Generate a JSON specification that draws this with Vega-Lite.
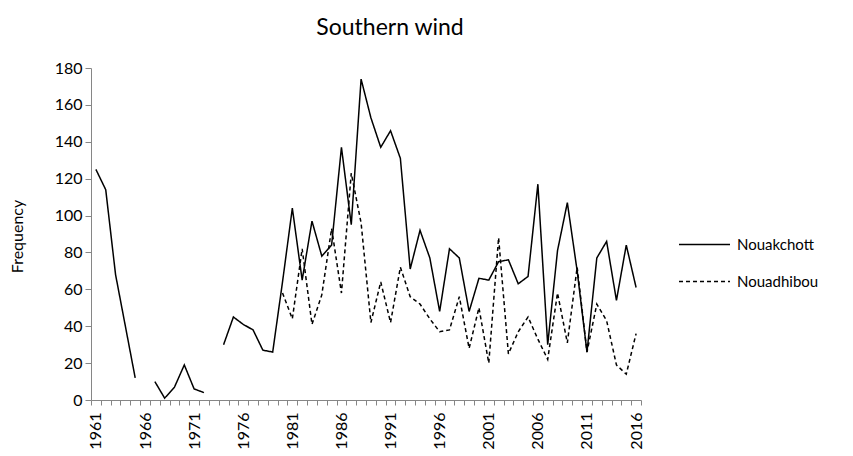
{
  "$schema": "https://vega.github.io/schema/vega-lite/v6.json",
  "width": 550,
  "height": 332,
  "autosize": {"type": "none"},
  "padding": {"left": 91, "top": 68, "right": 212, "bottom": 56},
  "title": {"text": "Southern  wind", "anchor": "middle", "fontSize": 23, "font": "Lato", "fontWeight": "normal", "dx": 24, "offset": 20, "color": "#000"},
  "data": {"values": [
    {"year": 1961, "station": "Nouakchott", "value": 125},
    {"year": 1962, "station": "Nouakchott", "value": 114},
    {"year": 1963, "station": "Nouakchott", "value": 68},
    {"year": 1964, "station": "Nouakchott", "value": 40},
    {"year": 1965, "station": "Nouakchott", "value": 12},
    {"year": 1966, "station": "Nouakchott", "value": null},
    {"year": 1967, "station": "Nouakchott", "value": 10},
    {"year": 1968, "station": "Nouakchott", "value": 1},
    {"year": 1969, "station": "Nouakchott", "value": 7},
    {"year": 1970, "station": "Nouakchott", "value": 19},
    {"year": 1971, "station": "Nouakchott", "value": 6},
    {"year": 1972, "station": "Nouakchott", "value": 4},
    {"year": 1973, "station": "Nouakchott", "value": null},
    {"year": 1974, "station": "Nouakchott", "value": 30},
    {"year": 1975, "station": "Nouakchott", "value": 45},
    {"year": 1976, "station": "Nouakchott", "value": 41},
    {"year": 1977, "station": "Nouakchott", "value": 38},
    {"year": 1978, "station": "Nouakchott", "value": 27},
    {"year": 1979, "station": "Nouakchott", "value": 26},
    {"year": 1980, "station": "Nouakchott", "value": 64},
    {"year": 1981, "station": "Nouakchott", "value": 104},
    {"year": 1982, "station": "Nouakchott", "value": 65},
    {"year": 1983, "station": "Nouakchott", "value": 97},
    {"year": 1984, "station": "Nouakchott", "value": 78},
    {"year": 1985, "station": "Nouakchott", "value": 84},
    {"year": 1986, "station": "Nouakchott", "value": 137},
    {"year": 1987, "station": "Nouakchott", "value": 95},
    {"year": 1988, "station": "Nouakchott", "value": 174},
    {"year": 1989, "station": "Nouakchott", "value": 153},
    {"year": 1990, "station": "Nouakchott", "value": 137},
    {"year": 1991, "station": "Nouakchott", "value": 146},
    {"year": 1992, "station": "Nouakchott", "value": 131},
    {"year": 1993, "station": "Nouakchott", "value": 71},
    {"year": 1994, "station": "Nouakchott", "value": 92},
    {"year": 1995, "station": "Nouakchott", "value": 77},
    {"year": 1996, "station": "Nouakchott", "value": 48},
    {"year": 1997, "station": "Nouakchott", "value": 82},
    {"year": 1998, "station": "Nouakchott", "value": 77},
    {"year": 1999, "station": "Nouakchott", "value": 48},
    {"year": 2000, "station": "Nouakchott", "value": 66},
    {"year": 2001, "station": "Nouakchott", "value": 65},
    {"year": 2002, "station": "Nouakchott", "value": 75},
    {"year": 2003, "station": "Nouakchott", "value": 76},
    {"year": 2004, "station": "Nouakchott", "value": 63},
    {"year": 2005, "station": "Nouakchott", "value": 67},
    {"year": 2006, "station": "Nouakchott", "value": 117},
    {"year": 2007, "station": "Nouakchott", "value": 30},
    {"year": 2008, "station": "Nouakchott", "value": 81},
    {"year": 2009, "station": "Nouakchott", "value": 107},
    {"year": 2010, "station": "Nouakchott", "value": 70},
    {"year": 2011, "station": "Nouakchott", "value": 26},
    {"year": 2012, "station": "Nouakchott", "value": 77},
    {"year": 2013, "station": "Nouakchott", "value": 86},
    {"year": 2014, "station": "Nouakchott", "value": 54},
    {"year": 2015, "station": "Nouakchott", "value": 84},
    {"year": 2016, "station": "Nouakchott", "value": 61},
    {"year": 1980, "station": "Nouadhibou", "value": 58},
    {"year": 1981, "station": "Nouadhibou", "value": 44},
    {"year": 1982, "station": "Nouadhibou", "value": 82},
    {"year": 1983, "station": "Nouadhibou", "value": 41},
    {"year": 1984, "station": "Nouadhibou", "value": 57},
    {"year": 1985, "station": "Nouadhibou", "value": 93},
    {"year": 1986, "station": "Nouadhibou", "value": 58},
    {"year": 1987, "station": "Nouadhibou", "value": 123},
    {"year": 1988, "station": "Nouadhibou", "value": 96},
    {"year": 1989, "station": "Nouadhibou", "value": 42},
    {"year": 1990, "station": "Nouadhibou", "value": 64},
    {"year": 1991, "station": "Nouadhibou", "value": 42},
    {"year": 1992, "station": "Nouadhibou", "value": 72},
    {"year": 1993, "station": "Nouadhibou", "value": 56},
    {"year": 1994, "station": "Nouadhibou", "value": 52},
    {"year": 1995, "station": "Nouadhibou", "value": 44},
    {"year": 1996, "station": "Nouadhibou", "value": 37},
    {"year": 1997, "station": "Nouadhibou", "value": 38},
    {"year": 1998, "station": "Nouadhibou", "value": 56},
    {"year": 1999, "station": "Nouadhibou", "value": 28},
    {"year": 2000, "station": "Nouadhibou", "value": 50},
    {"year": 2001, "station": "Nouadhibou", "value": 20},
    {"year": 2002, "station": "Nouadhibou", "value": 88},
    {"year": 2003, "station": "Nouadhibou", "value": 25},
    {"year": 2004, "station": "Nouadhibou", "value": 37},
    {"year": 2005, "station": "Nouadhibou", "value": 45},
    {"year": 2006, "station": "Nouadhibou", "value": 33},
    {"year": 2007, "station": "Nouadhibou", "value": 22},
    {"year": 2008, "station": "Nouadhibou", "value": 58},
    {"year": 2009, "station": "Nouadhibou", "value": 31},
    {"year": 2010, "station": "Nouadhibou", "value": 72},
    {"year": 2011, "station": "Nouadhibou", "value": 26},
    {"year": 2012, "station": "Nouadhibou", "value": 52},
    {"year": 2013, "station": "Nouadhibou", "value": 43},
    {"year": 2014, "station": "Nouadhibou", "value": 19},
    {"year": 2015, "station": "Nouadhibou", "value": 14},
    {"year": 2016, "station": "Nouadhibou", "value": 36}
  ]},
  "mark": {"type": "line", "color": "black", "strokeWidth": 1.5, "invalid": "break-paths-show-domains"},
  "encoding": {
    "x": {
      "field": "year", "type": "ordinal", "bandPosition": 0.5,
      "scale": {"type": "band", "paddingInner": 0, "paddingOuter": 0},
      "axis": {
        "title": null, "labelAngle": -90,
        "labelExpr": "(datum.value - 1961) % 5 == 0 ? datum.label : ''",
        "tickBand": "extent", "tickSize": 5, "labelFontSize": 16, "labelPadding": 7,
        "domainColor": "#868686", "tickColor": "#868686", "labelColor": "#000",
        "grid": false, "labelOverlap": false, "labelFont": "Lato"
      }
    },
    "y": {
      "field": "value", "type": "quantitative",
      "scale": {"domain": [0, 180], "nice": false},
      "axis": {
        "title": "Frequency", "values": [0, 20, 40, 60, 80, 100, 120, 140, 160, 180],
        "tickSize": 6, "labelFontSize": 16, "labelPadding": 3, "grid": false,
        "domainColor": "#868686", "tickColor": "#868686", "labelColor": "#000", "labelFont": "Lato",
        "titleFont": "Lato", "titleFontSize": 16, "titleFontWeight": "normal", "titleColor": "#000",
        "titleX": -74, "titleY": 168, "titleAngle": -90, "titleAlign": "center", "titleBaseline": "middle"
      }
    },
    "strokeDash": {
      "field": "station", "type": "nominal",
      "scale": {"domain": ["Nouakchott", "Nouadhibou"], "range": [[1, 0], [4, 3]]},
      "legend": {
        "title": null, "orient": "none", "legendX": 587, "legendY": 150,
        "symbolType": "stroke", "symbolSize": 2600, "symbolStrokeWidth": 1.5, "symbolStrokeColor": "black",
        "labelFontSize": 15, "labelFont": "Lato", "labelOffset": 6, "rowPadding": 2, "labelColor": "#000"
      }
    }
  },
  "config": {"view": {"stroke": null}, "font": "Lato"}
}
